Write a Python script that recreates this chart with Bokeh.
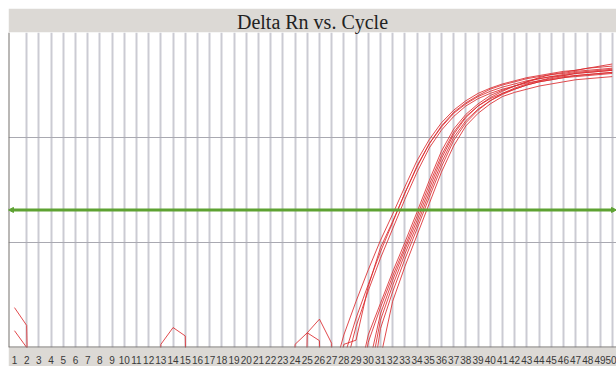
from bokeh.plotting import figure
from bokeh.models import FixedTicker, Span, Arrow, NormalHead, Range1d
from bokeh.embed import file_html
from bokeh.resources import INLINE

title_text = "Delta Rn vs. Cycle"
cycle_labels = list(range(1, 51))
grid_cycles = list(range(2, 51))
threshold = 1.31

# amplification curves, values for cycles 27..50
curve_start = 27
a1 = [-0.30, 0.12, 0.44, 0.74, 1.02, 1.27, 1.53, 1.78, 1.98, 2.14, 2.26, 2.35, 2.42, 2.47, 2.51, 2.54, 2.57, 2.59, 2.61, 2.63, 2.64, 2.66, 2.67, 2.68]
a2 = [-0.50, 0.03, 0.07, 0.58, 0.95, 1.20, 1.47, 1.73, 1.94, 2.11, 2.24, 2.33, 2.40, 2.46, 2.50, 2.53, 2.56, 2.58, 2.60, 2.61, 2.63, 2.64, 2.65, 2.66]
a3 = [-3.0, -0.10, 0.28, 0.60, 0.91, 1.19, 1.47, 1.72, 1.94, 2.10, 2.23, 2.32, 2.39, 2.44, 2.48, 2.51, 2.54, 2.56, 2.58, 2.59, 2.61, 2.62, 2.63, 2.64]
a4 = [-3.0, -0.25, 0.20, 0.54, 0.85, 1.13, 1.41, 1.67, 1.90, 2.07, 2.20, 2.30, 2.37, 2.42, 2.46, 2.49, 2.52, 2.54, 2.56, 2.58, 2.59, 2.60, 2.61, 2.62]
b1 = [-3.0, -3.0, -0.40, 0.12, 0.42, 0.72, 1.00, 1.29, 1.59, 1.87, 2.08, 2.22, 2.32, 2.40, 2.45, 2.49, 2.53, 2.56, 2.58, 2.60, 2.62, 2.63, 2.64, 2.65]
b2 = [-3.0, -3.0, -0.60, 0.05, 0.38, 0.68, 0.96, 1.25, 1.55, 1.83, 2.05, 2.20, 2.30, 2.37, 2.42, 2.46, 2.50, 2.53, 2.55, 2.57, 2.58, 2.59, 2.60, 2.61]
b3 = [-3.0, -3.0, -3.0, -0.20, 0.32, 0.64, 0.93, 1.21, 1.51, 1.80, 2.03, 2.19, 2.30, 2.38, 2.44, 2.49, 2.53, 2.57, 2.60, 2.62, 2.64, 2.66, 2.68, 2.70]
b4 = [-3.0, -3.0, -3.0, -0.35, 0.26, 0.59, 0.89, 1.17, 1.47, 1.76, 2.00, 2.16, 2.27, 2.35, 2.41, 2.46, 2.50, 2.53, 2.55, 2.57, 2.59, 2.60, 2.61, 2.62]
b5 = [-3.0, -3.0, -3.0, -0.60, 0.18, 0.53, 0.84, 1.13, 1.43, 1.72, 1.97, 2.14, 2.26, 2.35, 2.42, 2.47, 2.51, 2.54, 2.57, 2.59, 2.61, 2.62, 2.63, 2.64]
b6 = [-3.0, -3.0, -3.0, -3.0, -0.10, 0.44, 0.77, 1.07, 1.37, 1.67, 1.92, 2.11, 2.23, 2.32, 2.39, 2.43, 2.46, 2.49, 2.51, 2.53, 2.55, 2.56, 2.57, 2.58]
curves = [a1, a2, a3, a4, b1, b2, b3, b4, b5, b6]

# baseline noise segments: (first cycle, values)
noise_a = (1, [0.38, 0.21, -6.0])
noise_b = (1, [0.16, 0.00, -6.0])
noise_c = (12, [-6.0, 0.03, 0.19, 0.11, -6.0])
noise_d = (23, [-6.0, 0.03, 0.14, 0.27, 0.04, -6.0])
noise_e = (24, [-6.0, 0.14, 0.065, -6.0])
noises = [noise_a, noise_b, noise_c, noise_d, noise_e]

band = "#dcd9d5"
red = "#dc2a2e"
green = "#5ea232"

p = figure(width=608, height=358, output_backend="svg", toolbar_location=None,
           x_range=Range1d(0.51, 50.35), y_range=Range1d(0, 3),
           min_border_left=0, min_border_right=0, min_border_top=0, min_border_bottom=5,
           styles={"margin-left": "8px", "margin-top": "8px"})
p.border_fill_color = band
p.background_fill_color = "white"
p.outline_line_color = None

p.title.text = title_text
p.title.align = "center"
p.title.text_font = "Liberation Serif"
p.title.text_font_size = "20px"
p.title.text_font_style = "normal"
p.title.text_color = "#222222"
p.title.standoff = 0

p.yaxis.visible = False
p.xaxis.ticker = FixedTicker(ticks=cycle_labels)
p.xaxis.major_tick_line_color = None
p.xaxis.minor_tick_line_color = None
p.xaxis.axis_line_color = None
p.xaxis.major_label_text_font = "Liberation Sans"
p.xaxis.major_label_text_font_size = "10px"
p.xaxis.major_label_text_color = "#3a3a3a"
p.xaxis.major_label_standoff = 2

p.xgrid.ticker = FixedTicker(ticks=grid_cycles)
p.xgrid.grid_line_color = "#cbcbd3"
p.xgrid.grid_line_width = 2
p.ygrid.ticker = FixedTicker(ticks=[1, 2])
p.ygrid.grid_line_color = "#a9a9b1"
p.ygrid.grid_line_width = 1

for start, vals in noises:
    xs = list(range(start, start + len(vals)))
    p.line(xs, vals, line_color=red, line_width=1, line_alpha=0.85)

for vals in curves:
    xs = list(range(curve_start, curve_start + len(vals)))
    p.line(xs, vals, line_color=red, line_width=1, line_alpha=0.85)

p.add_layout(Span(location=0, dimension="width", line_color="#77726f", line_width=2))
p.add_layout(Span(location=0.51, dimension="height", line_color="#77726f", line_width=2))

arrow = Arrow(start=NormalHead(size=5, fill_color=green, line_color=green),
              end=NormalHead(size=5, fill_color=green, line_color=green),
              x_start=0.51, y_start=threshold, x_end=50.35, y_end=threshold,
              line_color=green, line_width=3)
p.add_layout(arrow)

open("out.html", "w").write(file_html(p, INLINE))
